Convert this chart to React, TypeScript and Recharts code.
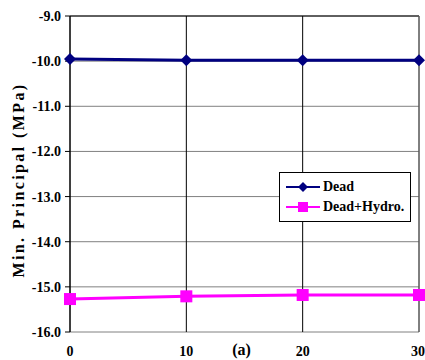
import { LineChart, Line, XAxis, YAxis, CartesianGrid, Legend, ReferenceLine, Label } from "recharts";

const ages = [0, 10, 20, 30];
const dead = [-9.95, -9.98, -9.98, -9.98];
const deadHydro = [-15.27, -15.21, -15.18, -15.18];
const yTicks = [-16, -15, -14, -13, -12, -11, -10, -9];

const data = ages.map((a, i) => ({ age: a, dead: dead[i], deadHydro: deadHydro[i] }));

const series = [
  { key: "dead", label: "Dead", color: "#000080", shape: "diamond" },
  { key: "deadHydro", label: "Dead+Hydro.", color: "#FF00FF", shape: "square" },
];

const font = "Liberation Serif, Times New Roman, serif";

const Diamond = (props: any) => {
  const { cx, cy, fill } = props;
  if (cx == null || cy == null) return null;
  const r = 6;
  return <polygon points={`${cx},${cy - r} ${cx + r},${cy} ${cx},${cy + r} ${cx - r},${cy}`} fill={fill} />;
};

const Square = (props: any) => {
  const { cx, cy, fill } = props;
  if (cx == null || cy == null) return null;
  const s = 6;
  return <rect x={cx - s} y={cy - s} width={s * 2} height={s * 2} fill={fill} />;
};

const LegendBox = () => (
  <div
    style={{
      border: "1px solid #000",
      background: "#fff",
      width: 132,
      height: 50,
      boxSizing: "border-box",
      padding: "4px 0 0 4px",
      fontFamily: font,
      fontWeight: "bold",
      fontSize: 14,
      textAlign: "left",
    }}
  >
    {series.map((s) => (
      <div key={s.key} style={{ display: "flex", alignItems: "center", height: 20 }}>
        <svg width={38} height={14} style={{ marginRight: 1 }}>
          <line x1={2} y1={7} x2={36} y2={7} stroke={s.color} strokeWidth={2} />
          {s.shape === "diamond" ? (
            <polygon points="19,2 24,7 19,12 14,7" fill={s.color} />
          ) : (
            <rect x={14} y={2} width={10} height={10} fill={s.color} />
          )}
        </svg>
        <span>{s.label}</span>
      </div>
    ))}
  </div>
);

// y title sits a little below the plot centre in the original
const YTitle = (props: any) => {
  const { viewBox } = props;
  const cy = viewBox.y + viewBox.height / 2 + 6;
  return (
    <text
      x={18}
      y={cy}
      transform={`rotate(-90, 18, ${cy})`}
      textAnchor="middle"
      dominantBaseline="central"
      fill="#000"
      fontFamily={font}
      fontWeight="bold"
      fontSize={16}
      letterSpacing={2.4}
    >
      Min. Principal (MPa)
    </text>
  );
};

const XTitle = (props: any) => {
  const { viewBox } = props;
  const cx = viewBox.x + viewBox.width / 2 - 3;
  return (
    <text x={cx} y={355} textAnchor="middle" fill="#000" fontFamily={font} fontWeight="bold" fontSize={16}>
      (a)
    </text>
  );
};

export default function App() {
  return (
    <div style={{ position: "absolute", left: 0, top: 0, background: "#fff" }}>
      <LineChart width={425} height={360} data={data} margin={{ top: 16, right: 6, bottom: 0, left: 0 }}>
        <CartesianGrid horizontal={true} vertical={false} stroke="#808080" strokeWidth={1} />
        <CartesianGrid horizontal={false} vertical={true} stroke="#000" strokeWidth={1} />
        <ReferenceLine y={-9} stroke="#000" />
        <ReferenceLine x={30} stroke="#808080" />
        <XAxis
          dataKey="age"
          type="number"
          domain={[0, 30]}
          ticks={ages}
          height={28}
          axisLine={false}
          tickLine={false}
          tickMargin={8}
          tick={{ fill: "#000", fontFamily: font, fontWeight: "bold", fontSize: 14 }}
        >
          <Label content={<XTitle />} />
        </XAxis>
        <YAxis
          type="number"
          domain={[-16, -9]}
          ticks={yTicks}
          width={70}
          axisLine={{ stroke: "#000" }}
          tickLine={{ stroke: "#000" }}
          tickSize={5}
          tickMargin={4}
          tickFormatter={(v: number) => v.toFixed(1)}
          tick={{ fill: "#000", fontFamily: font, fontWeight: "bold", fontSize: 14 }}
        >
          <Label content={<YTitle />} />
        </YAxis>
        <Legend
          layout="horizontal"
          verticalAlign="middle"
          align="center"
          content={<LegendBox />}
          wrapperStyle={{ position: "absolute", left: 279, top: 172, width: 132, height: 50 }}
        />
        <Line
          dataKey="dead"
          name="Dead"
          stroke="#000080"
          strokeWidth={3}
          dot={<Diamond fill="#000080" />}
          activeDot={false}
          isAnimationActive={false}
        />
        <Line
          dataKey="deadHydro"
          name="Dead+Hydro."
          stroke="#FF00FF"
          strokeWidth={3}
          dot={<Square fill="#FF00FF" />}
          activeDot={false}
          isAnimationActive={false}
        />
      </LineChart>
    </div>
  );
}
